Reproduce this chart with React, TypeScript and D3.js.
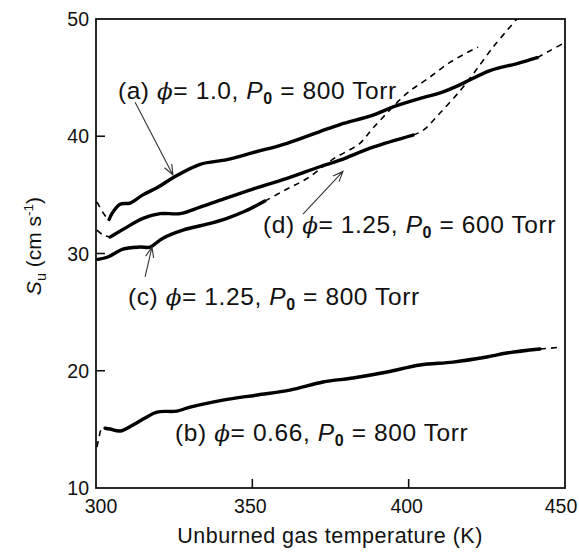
import React from "react";
import * as d3 from "d3";

type P = [number, number];

const xTicks = [300, 350, 400, 450];
const yTicks = [10, 20, 30, 40, 50];

// curve (a) phi=1.0, 800 Torr
const aDashStart: P[] = [[300.3, 34.4], [302.2, 33.5], [303.9, 32.9]];
const aSolid: P[] = [[304.2, 32.9], [305.1, 33.4], [307.7, 34.2], [310.9, 34.3], [315.0, 35.0], [319.5, 35.6], [324.9, 36.5], [333.3, 37.6], [341.9, 38.0], [350.2, 38.6], [361.1, 39.4], [371.6, 40.4], [378.0, 41.0], [388.6, 41.8], [395.0, 42.5], [404.6, 43.3], [410.1, 43.7], [416.5, 44.4], [426.0, 45.6], [434.7, 46.2], [441.1, 46.7]];
const aDashEnd: P[] = [[441.1, 46.7], [445.2, 47.3], [450.0, 48.0]];

// curve (d) phi=1.25, 600 Torr
const dDashStart: P[] = [[300.3, 32.0], [302.2, 31.6], [304.5, 31.4]];
const dSolid: P[] = [[304.5, 31.4], [307.0, 31.8], [309.9, 32.25], [315.0, 33.0], [320.5, 33.4], [326.9, 33.4], [333.3, 33.95], [339.7, 34.55], [350.2, 35.5], [361.1, 36.4], [371.6, 37.4], [378.0, 37.96], [388.6, 39.07], [401.4, 40.1]];
const dDashEnd: P[] = [[401.4, 40.1], [404.6, 40.5], [410.1, 42.0], [416.5, 43.9], [420.6, 45.3], [427.0, 47.6], [434.6, 50.0]];

// curve (c) phi=1.25, 800 Torr
const cSolid: P[] = [[300.6, 29.5], [303.8, 29.7], [308.6, 30.38], [314.1, 30.55], [317.3, 30.55], [321.4, 31.31], [327.8, 32.0], [335.5, 32.5], [341.9, 33.0], [347.6, 33.6], [354.0, 34.47]];
const cDashEnd: P[] = [[354.0, 34.47], [360.4, 35.4], [367.5, 36.4], [375.8, 38.05], [384.4, 39.4], [388.6, 40.7], [399.5, 43.67], [405.9, 44.87], [413.2, 46.3], [420.6, 47.4], [422.2, 47.6]];

// curve (b) phi=0.66, 800 Torr
const bDashStart: P[] = [[300.3, 13.5], [301.0, 14.35], [301.6, 14.94], [302.9, 15.1]];
const bSolid: P[] = [[302.9, 15.1], [304.5, 15.03], [307.7, 14.86], [311.8, 15.37], [315.7, 15.97], [319.5, 16.48], [325.9, 16.56], [330.1, 16.9], [340.6, 17.5], [351.5, 17.93], [362.0, 18.35], [372.6, 19.04], [382.2, 19.38], [393.1, 19.89], [403.6, 20.49], [414.2, 20.74], [425.0, 21.17], [431.4, 21.51], [442.0, 21.85]];
const bDashEnd: P[] = [[442.0, 21.85], [448.4, 22.0]];

const solidSeries = [aSolid, dSolid, cSolid, bSolid];
const dashedSeries = [aDashStart, aDashEnd, dDashStart, dDashEnd, cDashEnd, bDashStart, bDashEnd];

// labels
const labelLetters = ["(a)", "(d)", "(c)", "(b)"];
const labelPhi = ["1.0", "1.25", "1.25", "0.66"];
const labelP = ["800", "600", "800", "800"];
const labelPos: P[] = [[307.0, 43.16], [353.4, 31.74], [310.2, 25.6], [325.3, 14.0]];

// arrows: from -> tip (data coords)
const arrowFrom: P[] = [[312.5, 42.9], [366.2, 33.36], [315.7, 28.0]];
const arrowTip: P[] = [[324.6, 36.7], [379.0, 37.0], [317.9, 30.55]];

const W = 579, H = 554;
const X0 = 96, X1 = 565, Y0 = 488, Y1 = 19;
const FONT = "'Liberation Sans', Arial, sans-serif";

export default function App() {
  const x = d3.scaleLinear().domain([300, 450]).range([X0, X1]);
  const y = d3.scaleLinear().domain([10, 50]).range([Y0, Y1]);
  const line = d3.line<P>().x(d => x(d[0])).y(d => y(d[1])).curve(d3.curveCatmullRom.alpha(0.5));

  const arrowHead = (f: P, t: P) => {
    const fx = x(f[0]), fy = y(f[1]), tx = x(t[0]), ty = y(t[1]);
    const ang = Math.atan2(ty - fy, tx - fx);
    const L = 11, a = 0.38;
    const p1 = [tx - L * Math.cos(ang - a), ty - L * Math.sin(ang - a)];
    const p2 = [tx - L * Math.cos(ang + a), ty - L * Math.sin(ang + a)];
    return `M${fx},${fy}L${tx},${ty}M${p1[0]},${p1[1]}L${tx},${ty}L${p2[0]},${p2[1]}`;
  };

  return (
    <svg width={W} height={H} style={{ position: "absolute", left: 0, top: 0, background: "#fff" }} fontFamily={FONT}>
      <defs>
        <clipPath id="plot">
          <rect x={X0} y={Y1} width={X1 - X0} height={Y0 - Y1} />
        </clipPath>
      </defs>
      <rect x={X0} y={Y1} width={X1 - X0} height={Y0 - Y1} fill="none" stroke="#111" strokeWidth={1.8} />
      {xTicks.slice(1, 3).map(t => (
        <line key={"xt" + t} x1={x(t)} x2={x(t)} y1={Y0} y2={Y0 - 9} stroke="#111" strokeWidth={1.6} />
      ))}
      {yTicks.slice(1, 4).map(t => (
        <line key={"yt" + t} x1={X0} x2={X0 + 9} y1={y(t)} y2={y(t)} stroke="#111" strokeWidth={1.6} />
      ))}
      {xTicks.map((t, i) => (
        <text key={"xl" + t} x={x(t) + (i === 0 ? 5 : i === 3 ? -4 : -2)} y={513} fontSize={19.5} textAnchor="middle" fill="#111">{t}</text>
      ))}
      {yTicks.map((t, i) => (
        <text key={"yl" + t} x={89} y={y(t) + 7} fontSize={19.5} textAnchor="end" fill="#111">{t}</text>
      ))}
      <text x={330} y={543} fontSize={21.5} letterSpacing={0.5} textAnchor="middle" fill="#111">Unburned gas temperature (K)</text>
      <text transform={`translate(41,246) rotate(-90)`} fontSize={21} textAnchor="middle" fill="#111">
        <tspan fontStyle="italic">S</tspan>
        <tspan fontSize={14.5} dy={5}>u</tspan>
        <tspan dy={-5}> (cm s</tspan>
        <tspan fontSize={13.5} dy={-8}>-1</tspan>
        <tspan dy={8}>)</tspan>
      </text>
      <g clipPath="url(#plot)" fill="none" stroke="#000" strokeLinecap="round" strokeLinejoin="round">
        {solidSeries.map((s, i) => (
          <path key={"s" + i} d={line(s) || ""} strokeWidth={3.4} />
        ))}
        {dashedSeries.map((s, i) => (
          <path key={"d" + i} d={line(s) || ""} strokeWidth={1.6} strokeDasharray="6,5" strokeLinecap="butt" />
        ))}
      </g>
      {arrowFrom.map((f, i) => (
        <path key={"ar" + i} d={arrowHead(f, arrowTip[i])} fill="none" stroke="#333" strokeWidth={1.1} />
      ))}
      {labelLetters.map((l, i) => (
        <text key={"lab" + i} x={x(labelPos[i][0])} y={y(labelPos[i][1])} fontSize={24.5} letterSpacing={0.6} fill="#111">
          <tspan>{l} </tspan>
          <tspan fontStyle="italic" fontFamily="'DejaVu Serif', serif" fontSize={23}>ϕ</tspan>
          <tspan>= {labelPhi[i]}, </tspan>
          <tspan fontStyle="italic">P</tspan>
          <tspan fontSize={16} fontWeight="bold" dy={5}>0</tspan>
          <tspan dy={-5}> = {labelP[i]} Torr</tspan>
        </text>
      ))}
    </svg>
  );
}
